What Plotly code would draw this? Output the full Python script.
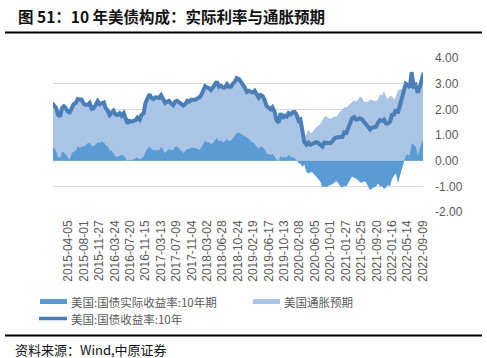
import pandas as pd
import plotly.graph_objects as go

# ---- data (semi-monthly readings, 1st and 15th of each month) ----
dates = pd.date_range("2014-12-01", "2022-09-15", freq="SMS")

yield_10y = (
    [2.25, 2.15]
    + [2.05, 1.80, 1.72, 2.05, 2.12, 2.05, 1.90, 1.88, 2.10, 2.20, 2.25, 2.40, 2.38, 2.38, 2.22, 2.18, 2.18, 2.25, 2.02, 2.05, 2.18, 2.32, 2.20, 2.25]
    + [2.27, 2.05, 1.95, 1.78, 1.85, 1.95, 1.80, 1.78, 1.85, 1.75, 1.85, 1.62, 1.45, 1.55, 1.52, 1.55, 1.58, 1.68, 1.60, 1.78, 1.84, 2.25, 2.40, 2.58]
    + [2.45, 2.40, 2.47, 2.45, 2.45, 2.55, 2.38, 2.25, 2.30, 2.33, 2.22, 2.16, 2.30, 2.33, 2.27, 2.22, 2.15, 2.20, 2.33, 2.30, 2.37, 2.37, 2.37, 2.42]
    + [2.46, 2.55, 2.75, 2.90, 2.85, 2.83, 2.75, 2.83, 2.97, 3.08, 2.88, 2.92, 2.85, 2.85, 2.98, 2.88, 2.88, 3.00, 3.08, 3.22, 3.18, 3.08, 2.98, 2.85]
    + [2.68, 2.72, 2.68, 2.66, 2.72, 2.60, 2.45, 2.56, 2.52, 2.38, 2.12, 2.08, 2.00, 2.08, 1.90, 1.58, 1.48, 1.85, 1.65, 1.75, 1.72, 1.85, 1.80, 1.88]
    + [1.90, 1.80, 1.55, 1.60, 1.12, 0.72, 0.62, 0.70, 0.62, 0.65, 0.68, 0.72, 0.68, 0.62, 0.55, 0.70, 0.68, 0.68, 0.68, 0.75, 0.87, 0.90, 0.93, 0.92]
    + [0.93, 1.10, 1.08, 1.30, 1.45, 1.65, 1.70, 1.60, 1.62, 1.65, 1.60, 1.50, 1.45, 1.30, 1.22, 1.28, 1.30, 1.32, 1.48, 1.58, 1.55, 1.60, 1.45, 1.45]
    + [1.52, 1.78, 1.80, 2.00, 1.85, 2.15, 2.40, 2.80, 3.00, 2.95, 2.85, 3.45, 2.90, 2.95, 2.65, 2.85, 3.22, 3.42]
)

real_10y = (
    [0.45, 0.50]
    + [0.38, 0.15, 0.10, 0.35, 0.32, 0.25, 0.10, 0.05, 0.30, 0.35, 0.40, 0.55, 0.50, 0.55, 0.55, 0.60, 0.68, 0.70, 0.58, 0.55, 0.65, 0.72, 0.70, 0.75]
    + [0.72, 0.60, 0.55, 0.40, 0.40, 0.30, 0.15, 0.15, 0.20, 0.22, 0.20, 0.08, -0.02, 0.05, 0.02, 0.05, 0.08, 0.12, 0.05, 0.10, 0.15, 0.35, 0.45, 0.55]
    + [0.45, 0.40, 0.42, 0.40, 0.42, 0.55, 0.40, 0.30, 0.40, 0.45, 0.40, 0.42, 0.55, 0.55, 0.45, 0.40, 0.30, 0.38, 0.45, 0.45, 0.50, 0.50, 0.50, 0.45]
    + [0.42, 0.50, 0.65, 0.78, 0.72, 0.72, 0.65, 0.68, 0.80, 0.88, 0.75, 0.80, 0.72, 0.75, 0.85, 0.78, 0.78, 0.88, 0.95, 1.08, 1.10, 1.05, 1.02, 0.95]
    + [0.90, 0.85, 0.75, 0.72, 0.65, 0.55, 0.45, 0.55, 0.52, 0.45, 0.28, 0.25, 0.22, 0.28, 0.15, 0.05, -0.02, 0.18, 0.10, 0.15, 0.12, 0.22, 0.15, 0.12]
    + [0.10, 0.02, -0.10, -0.12, -0.25, -0.15, -0.45, -0.50, -0.45, -0.45, -0.55, -0.60, -0.70, -0.80, -1.05, -1.00, -1.05, -0.98, -0.95, -0.92, -0.85, -0.80, -0.88, -1.00]
    + [-1.05, -0.98, -1.00, -0.85, -0.75, -0.62, -0.65, -0.70, -0.75, -0.85, -0.85, -0.80, -0.85, -1.00, -1.15, -1.08, -1.05, -1.00, -0.90, -1.00, -1.00, -1.10, -1.05, -0.95]
    + [-1.00, -0.72, -0.58, -0.50, -0.88, -0.62, -0.40, -0.08, 0.18, 0.25, 0.20, 0.68, 0.60, 0.55, 0.20, 0.45, 0.72, 0.88]
)

breakeven = (
    [1.80, 1.65]
    + [1.67, 1.65, 1.62, 1.70, 1.80, 1.80, 1.80, 1.83, 1.80, 1.85, 1.85, 1.85, 1.88, 1.83, 1.67, 1.58, 1.50, 1.55, 1.44, 1.50, 1.53, 1.60, 1.50, 1.50]
    + [1.55, 1.45, 1.40, 1.38, 1.45, 1.65, 1.65, 1.63, 1.65, 1.53, 1.65, 1.54, 1.47, 1.50, 1.50, 1.50, 1.50, 1.56, 1.55, 1.68, 1.69, 1.90, 1.95, 2.03]
    + [2.00, 2.00, 2.05, 2.05, 2.03, 2.00, 1.98, 1.95, 1.90, 1.88, 1.82, 1.74, 1.75, 1.78, 1.82, 1.82, 1.85, 1.82, 1.88, 1.85, 1.87, 1.87, 1.87, 1.97]
    + [2.04, 2.05, 2.10, 2.12, 2.13, 2.11, 2.10, 2.15, 2.17, 2.20, 2.13, 2.12, 2.13, 2.10, 2.13, 2.10, 2.10, 2.12, 2.13, 2.14, 2.08, 2.03, 1.96, 1.90]
    + [1.78, 1.87, 1.93, 1.94, 2.07, 2.05, 2.00, 2.01, 2.00, 1.93, 1.84, 1.83, 1.78, 1.80, 1.75, 1.53, 1.50, 1.67, 1.55, 1.60, 1.60, 1.63, 1.65, 1.76]
    + [1.80, 1.78, 1.65, 1.72, 1.37, 0.87, 1.07, 1.20, 1.07, 1.10, 1.23, 1.32, 1.38, 1.42, 1.60, 1.70, 1.73, 1.66, 1.63, 1.67, 1.72, 1.70, 1.81, 1.92]
    + [1.98, 2.08, 2.08, 2.15, 2.20, 2.27, 2.35, 2.30, 2.37, 2.50, 2.45, 2.30, 2.30, 2.30, 2.37, 2.36, 2.35, 2.32, 2.38, 2.58, 2.55, 2.70, 2.50, 2.40]
    + [2.52, 2.50, 2.38, 2.50, 2.73, 2.77, 2.80, 2.88, 2.82, 2.70, 2.65, 2.77, 2.30, 2.40, 2.45, 2.40, 2.50, 2.54]
)

assert len(dates) == len(yield_10y) == len(real_10y) == len(breakeven)

x_tick_labels = [
    "2015-04-05", "2015-08-01", "2015-11-27", "2016-03-24", "2016-07-20", "2016-11-15",
    "2017-03-13", "2017-07-09", "2017-11-04", "2018-03-02", "2018-06-28", "2018-10-24",
    "2019-02-19", "2019-06-17", "2019-10-13", "2020-02-08", "2020-06-05", "2020-10-01",
    "2021-01-27", "2021-05-25", "2021-09-20", "2022-01-16", "2022-05-14", "2022-09-09",
]
y_tick_vals = [-2, -1, 0, 1, 2, 3, 4]
y_tick_text = ["-2.00", "-1.00", "0.00", "1.00", "2.00", "3.00", "4.00"]

title_text = "图 51：10 年美债构成：实际利率与通胀预期"
source_text = "资料来源：Wind,中原证券"
name_real = "美国:国债实际收益率:10年期"
name_be = "美国通胀预期"
name_yield = "美国:国债收益率:10年"

# ---- styling ----
C_REAL = "#5B9BD5"
C_BE = "#AAC4E6"
C_LINE = "#4A7EB6"
GRAY = "#595959"

W, H = 487, 358
ML, MR, MT, MB = 53, 64, 58, 146
PW, PH = W - ML - MR, H - MT - MB


def px(xp):
    return (xp - ML) / PW


def py(yp):
    return (H - MB - yp) / PH


# Excel-style stacking: inflation expectation sits on top of positive real yield
be_top = [b + max(r, 0.0) for b, r in zip(breakeven, real_10y)]

fig = go.Figure()
fig.add_trace(go.Scatter(x=dates, y=be_top, mode="lines", fill="tozeroy",
                         fillcolor=C_BE, line=dict(width=0, color=C_BE),
                         name=name_be, showlegend=False))
fig.add_trace(go.Scatter(x=dates, y=real_10y, mode="lines", fill="tozeroy",
                         fillcolor=C_REAL, line=dict(width=0, color=C_REAL),
                         name=name_real, showlegend=False))
fig.add_trace(go.Scatter(x=dates, y=yield_10y, mode="lines",
                         line=dict(width=4, color=C_LINE),
                         name=name_yield, showlegend=False))

fig.update_layout(
    width=W, height=H,
    margin=dict(l=ML, r=MR, t=MT, b=MB, pad=0),
    paper_bgcolor="white", plot_bgcolor="white",
    font=dict(family="Liberation Sans, Arial, sans-serif", color=GRAY, size=12),
    showlegend=False,
    xaxis=dict(
        type="date",
        range=["2014-12-08", "2022-09-10"],
        tickvals=x_tick_labels, ticktext=x_tick_labels,
        tickangle=-90, tickfont=dict(size=12, color=GRAY),
        showgrid=False, zeroline=False, showline=False, ticks="",
        ticklabelstandoff=5,
    ),
    yaxis=dict(
        side="right", range=[-2, 4],
        tickvals=y_tick_vals, ticktext=y_tick_text,
        tickfont=dict(size=12, color=GRAY),
        showgrid=True, gridcolor="#D9D9D9", gridwidth=1,
        zeroline=True, zerolinecolor="#D9D9D9", zerolinewidth=1,
        showline=False, ticks="", ticklabelstandoff=11,
    ),
)

ROW1, ROW2 = 301.5, 318.5

shapes = [
    # title rule and bottom rule
    dict(type="line", xref="paper", yref="paper", x0=px(5), x1=px(482), y0=py(32.5), y1=py(32.5),
         line=dict(color="black", width=2.2)),
    dict(type="line", xref="paper", yref="paper", x0=px(5), x1=px(482), y0=py(335.5), y1=py(335.5),
         line=dict(color="black", width=2)),
    # legend symbols
    dict(type="rect", xref="paper", yref="paper", x0=px(40), x1=px(67), y0=py(ROW1 + 2.5), y1=py(ROW1 - 2.5),
         line=dict(width=0), fillcolor=C_REAL),
    dict(type="rect", xref="paper", yref="paper", x0=px(253), x1=px(280), y0=py(ROW1 + 2.5), y1=py(ROW1 - 2.5),
         line=dict(width=0), fillcolor=C_BE),
    dict(type="line", xref="paper", yref="paper", x0=px(39), x1=px(67), y0=py(ROW2), y1=py(ROW2),
         line=dict(color=C_LINE, width=3.5)),
]

CJK = "Noto Sans CJK SC"
annotations = [
    dict(text=f"<b>{title_text}</b>", x=px(17), y=py(16), xref="paper", yref="paper",
         xanchor="left", yanchor="middle", showarrow=False, borderpad=0,
         font=dict(family=CJK, size=15.5, color="#111111")),
    dict(text=source_text, x=px(14), y=py(349), xref="paper", yref="paper",
         xanchor="left", yanchor="middle", showarrow=False, borderpad=0,
         font=dict(family=CJK, size=13, color="#111111")),
    dict(text=name_real, x=px(70), y=py(ROW1), xref="paper", yref="paper",
         xanchor="left", yanchor="middle", showarrow=False, borderpad=0,
         font=dict(family=CJK, size=11.5, color=GRAY)),
    dict(text=name_be, x=px(283), y=py(ROW1), xref="paper", yref="paper",
         xanchor="left", yanchor="middle", showarrow=False, borderpad=0,
         font=dict(family=CJK, size=11.5, color=GRAY)),
    dict(text=name_yield, x=px(70), y=py(ROW2), xref="paper", yref="paper",
         xanchor="left", yanchor="middle", showarrow=False, borderpad=0,
         font=dict(family=CJK, size=11.5, color=GRAY)),
]
fig.update_layout(shapes=shapes, annotations=annotations)

fig.write_html("out.html", config={"displayModeBar": False},
               post_script="document.body.style.margin='0';document.body.style.padding='0';")
